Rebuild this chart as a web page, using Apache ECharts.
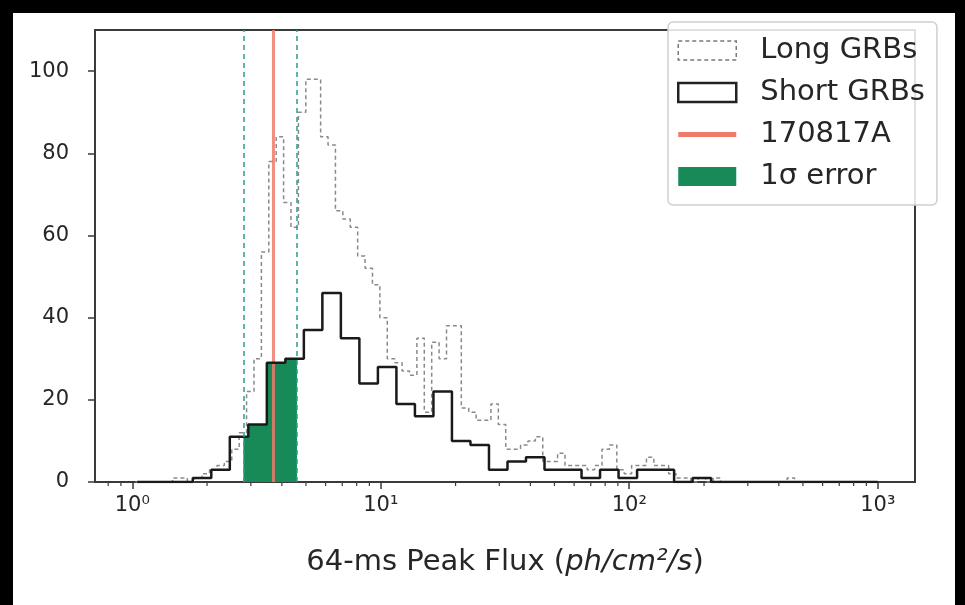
<!DOCTYPE html>
<html>
<head>
<meta charset="utf-8">
<script src="https://cdn.jsdelivr.net/npm/echarts@6/dist/echarts.min.js"></script>
<style>
  html, body { margin: 0; padding: 0; background: #000; }
  #paper { position: absolute; left: 13px; top: 13px; width: 942px; height: 592px; background: #fff; }
  #chart { position: absolute; left: 0; top: 0; width: 965px; height: 605px; }
</style>
</head>
<body>
<div id="paper"></div>
<div id="chart"></div>
<script>
// 64-ms peak flux histograms, log10-spaced bins (ph/cm^2/s)
const shortBinStart = 0.02;     // log10 of first edge
const shortBinWidth = 0.0745;   // dex per bin
const shortCounts = [
  0, 0, 0, 1, 3, 11, 14, 29, 30, 37,
  46, 35, 24, 28, 19, 16, 22, 10, 9, 3,
  5, 6, 3, 3, 1, 3, 1, 3, 3, 0,
  1, 0, 0, 0, 0, 0, 0, 0, 0, 0
];

const longBinStart = 0.013;
const longBinWidth = 0.0298;
const longCounts = [
  0, 0, 0, 0, 0, 1, 1, 0, 1, 2,
  3, 4, 5, 8, 12, 22, 30, 56, 78, 84,
  68, 62, 90, 98, 98, 84, 82, 66, 64, 62,
  55, 52, 48, 40, 30, 29, 27, 26, 35, 17,
  34, 30, 38, 38, 18, 17, 15, 15, 19, 14,
  8, 8, 9, 10, 11, 5, 5, 7, 4, 4,
  4, 3, 4, 8, 9, 3, 2, 4, 4, 6,
  4, 4, 2, 1, 1, 0, 1, 0, 1, 0,
  0, 0, 0, 0, 0, 0, 0, 0, 1, 0,
  0, 0, 0, 0, 0, 0, 0, 0, 0, 0
];

// GRB 170817A peak flux and its 1-sigma uncertainty
const grbFlux = 3.7;
const grbFluxErr = 0.9;

const xTickExponents = [0, 1, 2, 3];
const yTickValues = [0, 20, 40, 60, 80, 100];
const superscript = { 0: '\u2070', 1: '\u00b9', 2: '\u00b2', 3: '\u00b3' };

const lg = Math.log10;
const xMin = -0.15, xMax = 3.15, yMax = 110;

// outline of a histogram drawn as a step curve (x in log10 units)
function stepOutline(start, width, counts) {
  const pts = [[start, 0]];
  counts.forEach((c, i) => pts.push([start + i * width, c]));
  const end = start + counts.length * width;
  pts.push([end, counts[counts.length - 1]]);
  pts.push([end, 0]);
  return pts;
}

// the part of a histogram that lies between lo and hi
function stepBetween(start, width, counts, lo, hi) {
  const first = Math.floor((lo - start) / width);
  const pts = [[lo, 0], [lo, counts[first]]];
  let k = first + 1;
  while (start + k * width < hi) {
    pts.push([start + k * width, counts[k]]);
    k++;
  }
  pts.push([hi, counts[k - 1]]);
  pts.push([hi, 0]);
  return pts;
}

// minor ticks of the log axis (2..9 x 10^n)
const minorTicks = [];
for (let n = -1; n <= 3; n++) {
  for (let m = 2; m <= 9; m++) {
    const v = lg(m) + n;
    if (v > xMin && v < xMax) minorTicks.push([v]);
  }
}

const errLo = lg(grbFlux - grbFluxErr);
const errHi = lg(grbFlux + grbFluxErr);

const green = '#178a57';
const salmon = '#ee7a6a';
const ink = '#262626';
const spine = '#3a3a3a';
const font = 'DejaVu Sans';

const chart = echarts.init(document.getElementById('chart'), null, { renderer: 'canvas' });

chart.setOption({
  animation: false,
  backgroundColor: 'transparent',
  textStyle: { fontFamily: font },
  grid: {
    left: 95, right: 50, top: 30, bottom: 123,
    show: true, borderColor: spine, borderWidth: 2, backgroundColor: 'transparent'
  },
  legend: {
    orient: 'vertical',
    left: 668, top: 22,
    padding: [14, 12, 14, 9],
    itemGap: 13,
    itemWidth: 58, itemHeight: 19,
    backgroundColor: 'rgba(255,255,255,0.85)',
    borderColor: '#cfcfcf', borderWidth: 1.5, borderRadius: 5,
    selectedMode: false,
    textStyle: { fontFamily: font, fontSize: 29, color: ink, padding: [0, 0, 0, 19] },
    data: [
      { name: 'Long GRBs', icon: 'rect',
        itemStyle: { color: '#fff', borderColor: '#7a7a7a', borderWidth: 1.5, borderType: [4, 3] } },
      { name: 'Short GRBs', icon: 'rect',
        itemStyle: { color: '#fff', borderColor: '#222', borderWidth: 2.5 } },
      { name: '170817A', icon: 'path://M0,0H60V5H0Z', itemStyle: { color: salmon } },
      { name: '1\u03c3 error', icon: 'rect', itemStyle: { color: green } }
    ]
  },
  xAxis: {
    type: 'value',
    min: xMin, max: xMax,
    axisLine: { show: true, onZero: false, lineStyle: { color: spine, width: 2 } },
    splitLine: { show: false },
    axisTick: { show: true, customValues: xTickExponents, length: 7, lineStyle: { color: spine, width: 1.5 } },
    axisLabel: {
      customValues: xTickExponents,
      margin: 13,
      fontSize: 21, color: ink, fontFamily: font,
      formatter: v => '10' + superscript[Math.round(v)]
    },
    name: '64-ms Peak Flux ({i|ph/cm\u00b2/s})',
    nameLocation: 'middle',
    nameGap: 66,
    nameTextStyle: {
      fontSize: 29, color: ink, fontFamily: font,
      rich: { i: { fontSize: 29, fontStyle: 'italic', color: ink, fontFamily: font } }
    }
  },
  yAxis: {
    type: 'value',
    min: 0, max: yMax,
    axisLine: { show: true, onZero: false, lineStyle: { color: spine, width: 2 } },
    splitLine: { show: false },
    axisTick: { show: true, customValues: yTickValues, length: 7, lineStyle: { color: spine, width: 1.5 } },
    axisLabel: { customValues: yTickValues, margin: 26, fontSize: 21, color: ink, fontFamily: font }
  },
  series: [
    {
      name: '1\u03c3 error',
      type: 'line',
      step: 'end',
      symbol: 'none',
      z: 1,
      lineStyle: { width: 0 },
      itemStyle: { color: green },
      areaStyle: { color: green, opacity: 1 },
      data: stepBetween(shortBinStart, shortBinWidth, shortCounts, errLo, errHi),
      markLine: {
        silent: true,
        symbol: 'none',
        label: { show: false },
        lineStyle: { color: '#2a9d8f', width: 1.5, type: [5, 4] },
        data: [{ xAxis: errLo }, { xAxis: errHi }]
      }
    },
    {
      name: '170817A',
      type: 'line',
      symbol: 'none',
      z: 2,
      lineStyle: { color: salmon, width: 3, opacity: 0.85 },
      itemStyle: { color: salmon },
      data: [[lg(grbFlux), 0], [lg(grbFlux), yMax]]
    },
    {
      name: 'Long GRBs',
      type: 'line',
      step: 'end',
      symbol: 'none',
      z: 3,
      lineStyle: { color: '#8a8a8a', width: 1.5, type: [4, 3] },
      itemStyle: { color: '#8a8a8a' },
      data: stepOutline(longBinStart, longBinWidth, longCounts)
    },
    {
      name: 'Short GRBs',
      type: 'line',
      step: 'end',
      symbol: 'none',
      z: 4,
      lineStyle: { color: '#1a1a1a', width: 2.5 },
      itemStyle: { color: '#1a1a1a' },
      data: stepOutline(shortBinStart, shortBinWidth, shortCounts)
    },
    {
      // minor ticks of the logarithmic x axis
      type: 'custom',
      silent: true,
      z: 5,
      clip: false,
      data: minorTicks,
      encode: { x: 0 },
      renderItem: (params, api) => {
        const p = api.coord([api.value(0), 0]);
        return {
          type: 'line',
          shape: { x1: p[0], y1: p[1], x2: p[0], y2: p[1] + 4 },
          style: { stroke: spine, lineWidth: 1.2 }
        };
      }
    }
  ]
});
</script>
</body>
</html>
